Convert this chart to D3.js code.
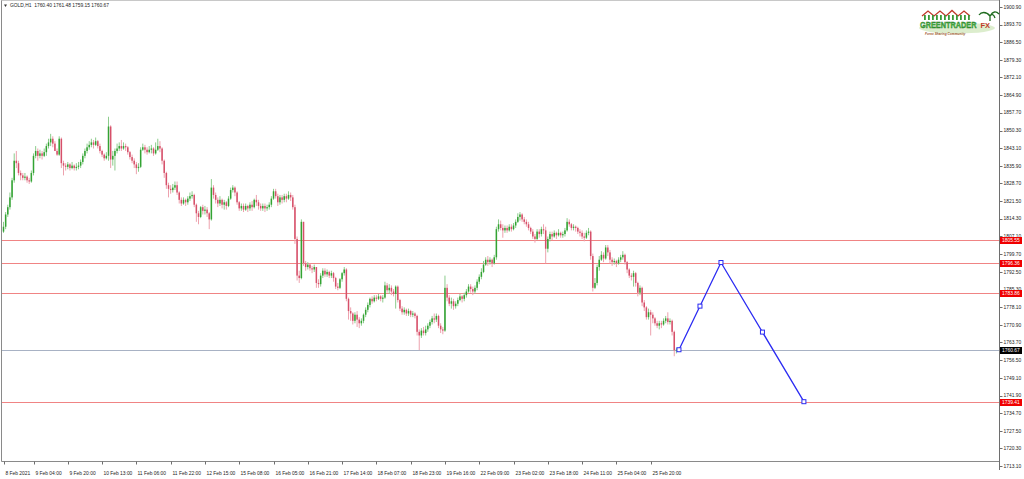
<!DOCTYPE html>
<html><head><meta charset="utf-8">
<script src="https://cdn.jsdelivr.net/npm/d3@7"></script>
<style>html,body{margin:0;padding:0;background:#fff;overflow:hidden}svg{display:block}</style>
</head><body>
<script>
const symbolTitle = "GOLD,H1";
const lastQuote = [1760.40, 1761.48, 1759.15, 1760.67];
const firstOpen = 1809.0;

const closes = [
1811,1816,1819,1823,1830,1838,1837,1833,1832,1831,
1831.5,1830,1829.5,1833,1840,1842,1840,1841,1840,1841.5,
1844,1845.5,1847,1845,1842,1840.5,1847,1837,1836,1835.5,
1836.5,1835,1836,1835,1835.5,1836,1837.5,1840,1842,1843.5,
1844.5,1845.5,1844.5,1846,1844,1842,1840.5,1839,1840,1852,
1838.5,1840,1842,1843,1844,1843,1844,1843.5,1841.5,1839.5,
1838,1836.5,1835,1835.5,1842.5,1843.5,1842.5,1841.5,1842.5,1843,
1841,1842.5,1844,1843,1838,1833,1828,1826.5,1826,1827,
1828,1825,1822,1820.5,1822,1821,1822.5,1823.5,1824,1820,
1816.5,1815,1819,1817.5,1818,1816.5,1814,1827,1824,1822,
1820.5,1822,1820,1821,1819.5,1822.5,1826,1827,1825,1821,
1818.5,1819.5,1818,1819.5,1818.5,1820,1819,1822,1821,1819.5,
1818.5,1819.5,1818.5,1819,1820,1822.5,1825.5,1823.5,1821,1823,
1822,1823.5,1822.5,1824,1823,1819,1806,1791,1790,1813,
1796,1794.5,1795.5,1794,1793.5,1794.5,1788,1787.5,1791,1793,
1791.5,1792.5,1791,1792,1790,1786.5,1786,1789.5,1792,1793.5,
1781.5,1776.5,1775.5,1772.5,1775,1773,1771.5,1772.5,1775,1777,
1779,1781.5,1780.5,1782,1781.5,1782.5,1781.5,1782,1787,1785,
1786,1784.5,1783.5,1786.5,1781,1777.5,1776,1777,1775.5,1776.5,
1775,1775.5,1774.5,1768,1766.5,1768.5,1767.5,1769,1770.5,1772,
1773.5,1773,1774.5,1770.5,1769,1768.5,1786,1782,1779.5,1780.5,
1778.5,1779.5,1781,1782.5,1781.5,1783,1784.5,1786.5,1785.5,1784.5,
1786,1788.5,1790.5,1792.5,1795.5,1797.5,1796.5,1797.5,1796,1798.5,
1810,1812,1810.5,1809.5,1810.5,1809.5,1811,1810,1811.5,1813,
1815,1816,1814,1813,1812,1810.5,1809,1807,1806,1809,
1808,1810,1809.5,1802,1806,1808,1807,1808.5,1807.5,1808.5,
1807.5,1808,1809.5,1813,1812,1810.5,1811,1810.5,1809,1808.5,
1807,1806.5,1808.5,1809,1799,1786,1788,1794.5,1797.5,1799.5,
1798,1802.5,1800.5,1797.5,1796.5,1797,1796,1797.5,1798.5,1799.5,
1796.5,1793.5,1791,1790.5,1792,1788,1784,1786,1780,1778,
1774,1776,1775,1773.5,1771.5,1770.5,1771.5,1771,1772.5,1773.5,
1772,1772.5,1768,1760.4,1760.67
];
const highs = [
1813,1817,1820,1825,1831,1841,1842,1838,1834,1833,
1833,1832,1831,1834,1841,1844,1843,1842.5,1842,1843,
1845,1847,1849,1848,1846,1843,1848,1847.5,1838,1837,
1837.5,1837,1837.5,1836.5,1837,1837.5,1838.5,1841,1843,1845,
1846,1847,1846.5,1847.5,1846.5,1845,1842.5,1841,1841.5,1856,
1852.5,1842,1843,1845,1845.5,1846.5,1845.5,1845,1844,1842,
1840.5,1839,1837.5,1837,1843.5,1845,1844.5,1843.5,1844,1844.5,
1843.5,1845.5,1847,1846,1843.5,1838.5,1833.5,1829,1828,1828.5,
1829.5,1829.5,1825.5,1823,1823,1822.5,1823.5,1825,1825.5,1824.5,
1820.5,1817.5,1819.5,1820,1819.5,1819,1817,1830.5,1828,1825,
1823,1823.5,1822.5,1822,1821.5,1823.5,1827,1828,1827.5,1825.5,
1821.5,1820.5,1820.5,1820.5,1820,1821,1821.5,1822.5,1824,1822,
1820.5,1820.5,1820.5,1820,1821,1823.5,1826.5,1826.5,1824.5,1824,
1824,1824.5,1824.5,1825.5,1825,1824,1820,1807,1793,1814,
1813,1797,1796.5,1796,1795,1795.5,1794,1789.5,1792,1794,
1794,1793.5,1793,1793,1792.5,1790.5,1788,1790,1792.5,1794.5,
1794,1782,1778,1776,1776,1776.5,1774,1773.5,1775.5,1778,
1780,1782,1782.5,1783,1783,1783.5,1783,1783,1788.5,1788,
1787.5,1787,1785.5,1787,1787,1781.5,1778.5,1778,1777.5,1777.5,
1777,1776.5,1776,1775,1769,1769.5,1770,1770.5,1771.5,1773,
1774.5,1775.5,1775.5,1775,1771.5,1770,1791,1787.5,1783,1782,
1781.5,1780.5,1782,1783.5,1783,1784,1785.5,1787.5,1787.5,1786.5,
1787,1789.5,1791.5,1794,1797,1798.5,1799,1798.5,1798,1799.5,
1811,1814,1813.5,1812,1811.5,1811.5,1812,1812,1812.5,1814,
1816.5,1817,1816.5,1815,1814,1813,1811,1810,1808,1810,
1810,1811,1812,1811,1807,1809,1809,1809.5,1809,1810,
1809,1809,1810.5,1814.5,1814,1812.5,1812,1811.5,1811,1810,
1809.5,1808.5,1809.5,1810.5,1809.5,1800,1790,1795.5,1799,1801,
1800.5,1803.5,1803.5,1801.5,1798.5,1798,1797.5,1798.5,1799.5,1801,
1800,1797,1794,1792,1793,1792.5,1788.5,1787,1786.5,1781,
1778.5,1777.5,1777,1776,1774,1772.5,1772.5,1772.5,1773.5,1774.5,
1776,1773.5,1773,1768.5,1761.48
];
const lows = [
1808.5,1810,1815,1818,1822,1829,1835,1832,1830,1830,
1830,1829,1828.5,1829,1832,1839,1838,1839,1838.5,1839.5,
1840,1843,1844,1843.5,1842,1840,1840,1835,1832,1834,
1834.5,1834,1834.5,1834,1834,1834.5,1835,1836.5,1839,1841,
1842.5,1843.5,1843,1844,1843,1841,1839.5,1838,1838.5,1838,
1835,1836,1834,1841,1842,1842,1842.5,1842,1840.5,1838.5,
1837,1835,1832.5,1833.5,1835,1842,1841,1840.5,1841,1841,
1840,1840.5,1842,1841.5,1836.5,1831,1826.5,1823,1824.5,1825,
1826,1824,1820.5,1819.5,1820,1819.5,1820,1821.5,1822.5,1819,
1813,1812,1814.5,1816,1816,1815,1810,1813.5,1822.5,1820.5,
1819,1819.5,1818.5,1818,1818,1819,1822,1825,1823.5,1820,
1817.5,1817.5,1817,1817.5,1817,1817.5,1817.5,1818.5,1819.5,1818,
1817.5,1817.5,1817,1817.5,1818,1819,1822,1822.5,1819.5,1820,
1820.5,1821,1821,1822,1821.5,1818,1804,1789,1788,1789.5,
1795,1793,1793.5,1793,1792,1792.5,1786,1786,1786.5,1790,
1790.5,1790.5,1790,1790,1788.5,1785.5,1785,1785.5,1788.5,1791,
1780.5,1773,1772.5,1771,1771.5,1770,1769.5,1770.5,1771.5,1774,
1776,1778,1779.5,1780,1780.5,1781,1780.5,1780,1781.5,1784,
1783.5,1783,1782.5,1777.5,1780,1776.5,1775,1775,1774.5,1774.5,
1774,1774,1773.5,1766.5,1760.5,1765.5,1766.5,1766.5,1768,1769.5,
1771,1771.5,1772,1769.5,1767.5,1767,1768,1780.5,1778.5,1777.5,
1777,1777.5,1778.5,1780.5,1780,1780.5,1782,1784,1784,1783,
1783.5,1785,1787.5,1789.5,1792,1795,1795,1795.5,1794.5,1795.5,
1797.5,1809,1809.5,1806.5,1808.5,1808.5,1809,1809,1809.5,1810.5,
1812.5,1813.5,1813,1812,1811,1809.5,1808,1806,1804.5,1805.5,
1806.5,1807,1808,1796,1800.5,1805,1805.5,1806.5,1806,1807,
1806.5,1806.5,1807,1809,1811,1809.5,1809.5,1809,1808,1807,
1806,1805,1806,1807.5,1797.5,1784.5,1785.5,1787,1793,1797,
1796.5,1797.5,1799,1796,1795,1795.5,1794.5,1795.5,1796.5,1797.5,
1795.5,1792,1790,1789,1786.5,1786.5,1782.5,1783,1778.5,1776.5,
1773,1773,1766.5,1771.5,1770.5,1769.5,1769,1769.5,1770.5,1771.5,
1771,1771,1766.5,1758,1759.15
];

const timeLabels = ["8 Feb 2021","9 Feb 04:00","9 Feb 20:00","10 Feb 13:00","11 Feb 06:00","11 Feb 22:00",
  "12 Feb 15:00","15 Feb 08:00","16 Feb 05:00","16 Feb 21:00","17 Feb 14:00","18 Feb 07:00","18 Feb 23:00",
  "19 Feb 16:00","22 Feb 09:00","23 Feb 02:00","23 Feb 18:00","24 Feb 11:00","25 Feb 04:00","25 Feb 20:00"];
const timeLabelBars = [0,14,30,46,62,78,94,110,126,142,158,174,190,206,222,238,254,270,286,302];

const priceTicks = ["1900.90","1893.70","1886.50","1879.30","1872.10","1864.90","1857.70","1850.30","1843.10",
  "1835.90","1828.70","1821.50","1814.30","1807.10","1799.70","1792.50","1785.30","1778.10","1770.90",
  "1763.70","1756.50","1749.10","1741.90","1734.70","1727.50","1720.30","1713.10"];

const levelLines = [1805.55, 1796.36, 1783.86, 1739.41];
const bidPrice = 1760.67;
const zigBars = [315.2, 334.8, 373.5];
const zigPrices = [1760.67, 1796.36, 1739.41];

const W = 1024, H = 479;
const plotRight = 999.5, plotBottom = 461.5;
const FONT = "'Liberation Sans', Arial, sans-serif";

const svg = d3.select("body").append("svg").attr("width", W).attr("height", H);
svg.append("rect").attr("width", W).attr("height", H).attr("fill", "#fff");

const x = d3.scaleLinear().domain([0, closes.length - 1]).range([3.5, 676.4]);
const y = d3.scaleLinear().domain([1713.10, 1900.90]).range([466, 7]);

const plot = svg.append("g");

// horizontal level lines
plot.selectAll("line.lvl").data(levelLines).enter().append("line")
  .attr("x1", 1.5).attr("x2", plotRight).attr("y1", d => Math.round(y(d)) + 0.5).attr("y2", d => Math.round(y(d)) + 0.5)
  .attr("stroke", "#f08484").attr("stroke-width", 1);
plot.append("line").attr("x1", 1.5).attr("x2", plotRight)
  .attr("y1", Math.round(y(bidPrice)) + 0.5).attr("y2", Math.round(y(bidPrice)) + 0.5)
  .attr("stroke", "#a8b2c4").attr("stroke-width", 1);

// candles
const bars = closes.map((c, i) => ({ i, o: i ? closes[i - 1] : firstOpen, c, h: highs[i], l: lows[i] }));
const cg = plot.append("g");
cg.selectAll("line.wick").data(bars).enter().append("line")
  .attr("x1", d => x(d.i)).attr("x2", d => x(d.i))
  .attr("y1", d => y(Math.max(d.h, d.o, d.c))).attr("y2", d => y(Math.min(d.l, d.o, d.c)))
  .attr("stroke", d => d.c >= d.o ? "#8ccc8c" : "#eda2ae").attr("stroke-width", 1);
cg.selectAll("rect.body").data(bars).enter().append("rect")
  .attr("x", d => x(d.i) - 0.75).attr("width", 1.5)
  .attr("y", d => y(Math.max(d.o, d.c)))
  .attr("height", d => Math.max(0.8, Math.abs(y(d.o) - y(d.c))))
  .attr("fill", d => d.c >= d.o ? "#33a333" : "#d6506a");

// zigzag projection
const zig = zigBars.map((b, k) => [x(b), y(zigPrices[k])]);
plot.append("path").attr("d", d3.line()(zig)).attr("fill", "none").attr("stroke", "#2b2bf2").attr("stroke-width", 1.3);
const handles = [];
for (let k = 0; k < zig.length; k++) {
  handles.push(zig[k]);
  if (k < zig.length - 1) handles.push([(zig[k][0] + zig[k + 1][0]) / 2, (zig[k][1] + zig[k + 1][1]) / 2]);
}
plot.selectAll("rect.h").data(handles).enter().append("rect")
  .attr("x", d => d[0] - 2).attr("y", d => d[1] - 2).attr("width", 4).attr("height", 4)
  .attr("fill", "#fff").attr("stroke", "#2b2bf2").attr("stroke-width", 1);

// frame
svg.append("line").attr("x1", 1.5).attr("x2", 1.5).attr("y1", 0).attr("y2", plotBottom).attr("stroke", "#8a8a8a");
svg.append("line").attr("x1", 1.5).attr("x2", plotRight).attr("y1", 0.5).attr("y2", 0.5).attr("stroke", "#c8c8c8");
svg.append("line").attr("x1", 1.5).attr("x2", plotRight).attr("y1", plotBottom).attr("y2", plotBottom).attr("stroke", "#8a8a8a");
svg.append("line").attr("x1", plotRight).attr("x2", plotRight).attr("y1", 0).attr("y2", 470).attr("stroke", "#6e6e6e");

// price axis
const pa = svg.append("g");
pa.selectAll("line.pt").data(priceTicks).enter().append("line")
  .attr("x1", plotRight).attr("x2", plotRight + 3)
  .attr("y1", d => Math.round(y(+d)) + 0.5).attr("y2", d => Math.round(y(+d)) + 0.5).attr("stroke", "#6e6e6e");
pa.selectAll("text.pt").data(priceTicks).enter().append("text")
  .attr("x", 1003.5).attr("y", d => y(+d) + 1.8).text(d => d)
  .attr("font-family", FONT).attr("font-size", 4.9).attr("fill", "#222");

// price tags
function tag(v, fill) {
  const g = svg.append("g");
  const yy = Math.round(y(v));
  g.append("rect").attr("x", 1000).attr("y", yy - 3).attr("width", 22).attr("height", 7).attr("fill", fill);
  g.append("text").attr("x", 1002).attr("y", yy + 2).text(v.toFixed(2))
    .attr("font-family", FONT).attr("font-size", 4.9).attr("fill", "#fff");
}
levelLines.forEach(v => tag(v, "#f00000"));
tag(bidPrice, "#000");

// time axis
const ta = svg.append("g");
ta.selectAll("line.tt").data(timeLabelBars).enter().append("line")
  .attr("x1", d => Math.round(x(d)) + 0.5).attr("x2", d => Math.round(x(d)) + 0.5)
  .attr("y1", plotBottom).attr("y2", plotBottom + 3).attr("stroke", "#6e6e6e");
ta.selectAll("text.tt").data(timeLabels).enter().append("text")
  .attr("x", (d, k) => Math.round(x(timeLabelBars[k])) + 1.5).attr("y", 474.5).text(d => d)
  .attr("font-family", FONT).attr("font-size", 4.9).attr("fill", "#222");

// header
svg.append("path").attr("d", "M4,4.5 L7,4.5 L5.5,7 Z").attr("fill", "#333");
svg.append("text").attr("x", 10).attr("y", 7.3)
  .text(symbolTitle + "  " + lastQuote.map(v => v.toFixed(2)).join(" "))
  .attr("font-family", FONT).attr("font-size", 4.9).attr("fill", "#222").attr("xml:space", "preserve");

// logo
const lg = svg.append("g").attr("transform", "translate(919,9)");
lg.append("ellipse").attr("cx", 38).attr("cy", 19).attr("rx", 38).attr("ry", 5.5).attr("fill", "#d6eac4").attr("opacity", 0.85);
const roof = [[3,7],[9,2],[15,7],[21,2],[27,7],[33,1.5],[39,7],[45,2],[51,7]];
lg.append("path").attr("d", d3.line()(roof)).attr("fill", "none").attr("stroke", "#c0392b").attr("stroke-width", 1.3);
for (let k = 0; k < 12; k++) lg.append("rect").attr("x", 5 + k * 4).attr("y", 6).attr("width", 1.8).attr("height", 5).attr("fill", "#3a9a3a");
lg.append("text").attr("transform", "translate(1,19) scale(0.77,1)").text("GREENTRADER")
  .attr("font-family", FONT).attr("font-weight", "bold").attr("font-size", 9.5)
  .attr("fill", "#45b845").attr("stroke", "#1f6d1f").attr("stroke-width", 0.35);
lg.append("text").attr("x", 61.5).attr("y", 19).text("FX")
  .attr("font-family", FONT).attr("font-weight", "bold").attr("font-size", 7.5).attr("fill", "#c0392b");
lg.append("path").attr("d", "M71,7 C67,2 62,3 60,6 M71,7 C74,2 77,2 80,5 M71,7 C73,4 75,6 76,9 M71,7 L71,12")
  .attr("fill", "none").attr("stroke", "#1e6b1e").attr("stroke-width", 1.3);
lg.append("text").attr("transform", "translate(6,26) scale(0.85,1)").text("Forex Sharing Community")
  .attr("font-family", FONT).attr("font-style", "italic").attr("font-weight", "bold").attr("font-size", 3.8)
  .attr("fill", "#a0562a");
</script>
</body></html>
